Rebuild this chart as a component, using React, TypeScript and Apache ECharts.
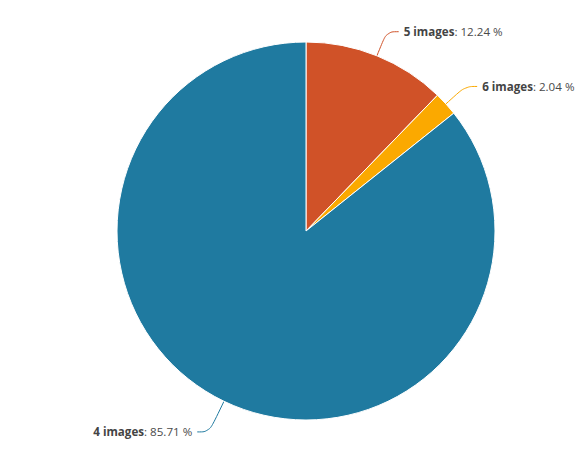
import * as echarts from 'echarts'
import { useEffect, useRef } from 'react'

const names = ['5 images', '6 images', '4 images']
const counts = [6, 1, 42]
const colors = ['#d05228', '#fba900', '#1f7aa0']
// first connector segment per slice
const lineLengths = [26, 26, 34]

export default function App() {
  const ref = useRef<HTMLDivElement>(null)

  useEffect(() => {
    if (!ref.current) return
    const chart = echarts.init(ref.current, null, { renderer: 'svg' })
    const total = counts.reduce((a, b) => a + b, 0)
    const font = '"Open Sans", sans-serif'
    chart.setOption({
      animation: false,
      series: [
        {
          type: 'pie',
          center: [306, 231],
          radius: 189,
          startAngle: 90,
          clockwise: true,
          avoidLabelOverlap: false,
          data: names.map((n, i) => ({
            name: n,
            value: counts[i],
            itemStyle: { color: colors[i] },
            labelLine: { length: lineLengths[i], lineStyle: { color: colors[i] } },
          })),
          itemStyle: { borderColor: '#ffffff', borderWidth: 1 },
          label: {
            position: 'outside',
            fontFamily: font,
            fontSize: 11.6,
            color: '#4a4a4a',
            formatter: (p: any) =>
              `{b|${p.name}}: ${((p.value / total) * 100).toFixed(2)} %`,
            rich: {
              b: { fontWeight: 'bold', fontSize: 11.6, color: '#444', fontFamily: font },
            },
          },
          labelLine: {
            show: true,
            length2: 12,
            smooth: 0.4,
            lineStyle: { width: 1 },
          },
          emphasis: { disabled: true },
        },
      ],
    })
    return () => chart.dispose()
  }, [])

  return <div ref={ref} style={{ position: 'absolute', left: 0, top: 0, width: 587, height: 458 }} />
}
